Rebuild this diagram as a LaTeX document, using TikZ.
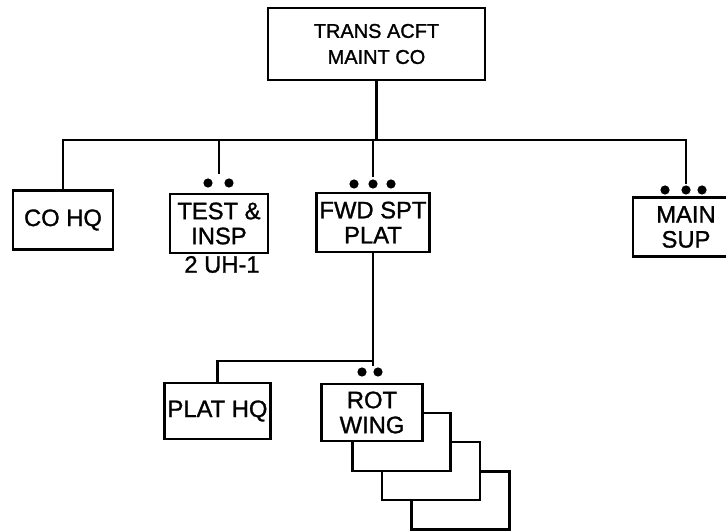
\documentclass[tikz,border=0pt]{standalone}
\usepackage{fontspec}
\setmainfont{Liberation Sans}[BoldFont={Liberation Sans}, BoldFeatures={FakeBold=1.2}]
\usepackage{tikz}
\usetikzlibrary{positioning}
\tikzset{
  unit/.style={rectangle, draw=black, line width=1.8pt, fill=white,
    align=center, minimum width=#1, minimum height=1.48cm, inner sep=2pt,
    font=\fontsize{16.9}{17.8}\selectfont\bfseries},
  unit/.default=2.5cm,
  cmd/.style={unit=5.43cm, minimum height=1.8cm,
    font=\fontsize{14.2}{18.5}\selectfont\bfseries},
  link/.style={line width=1.8pt, draw=black},
  lbl/.style={inner sep=0pt, font=\fontsize{16.9}{17.8}\selectfont\bfseries},
}
\newcommand{\dotrow}[2]{\foreach \dx in {#1} \fill (\dx,#2) circle (0.115cm);}

\begin{document}
\begin{tikzpicture}[x=0.025cm, y=-0.025cm]
    \useasboundingbox (0,0) rectangle (726,531);
    \clip (0,0) rectangle (726,531);

    % company and its elements
    \node[cmd] (co) at (376.5,44) {TRANS ACFT\\MAINT CO};
    \node[unit=2.5cm] (cohq) at (63,220) {CO HQ};
    \node[unit=2.45cm] (test) at (219,223.5) {TEST \&\\INSP};
    \node[lbl] (testnote) at (222,264.5) {2 UH-1};
    \node[unit=2.58cm] (fwd) at (373,222.5) {FWD SPT\\PLAT};
    \node[unit=2.65cm] (main) at (686,227) {MAIN\\SUP};

    % forward support platoon
    \node[unit=2.53cm, minimum height=1.4cm] (plathq) at (217.5,411) {PLAT HQ};
    \foreach \i in {3,2,1}
      \node[unit=2.45cm, minimum height=1.45cm] (rot\i) at (372+29.5*\i,412.5+29.3*\i) {};
    \node[unit=2.53cm, minimum height=1.43cm] (rotwing) at (372,412.5) {ROT\\WING};

    % dots
    \dotrow{208,229}{183}
    \dotrow{354,373,391}{184}
    \dotrow{665,686,702}{190}
    \dotrow{362,378}{372}

    \coordinate (bus) at (376.5,140);
    \coordinate (testin) at (219,174);
    \coordinate (fwdin) at (373,177);
    \coordinate (mainin) at (686,184);
    \coordinate (platbus) at (373,361);
    \coordinate (rotin) at (373,366);

    \draw[link] (co.south) -- (bus);
    \draw[link] (cohq.north) |- (bus) -| (mainin);
    \draw[link] (testin) -- (testin |- bus);
    \draw[link] (fwdin) -- (fwdin |- bus);
    \draw[link] (fwd.south) -- (rotin);
    \draw[link] (platbus) -| (plathq.north);
  \end{tikzpicture}
\end{document}
